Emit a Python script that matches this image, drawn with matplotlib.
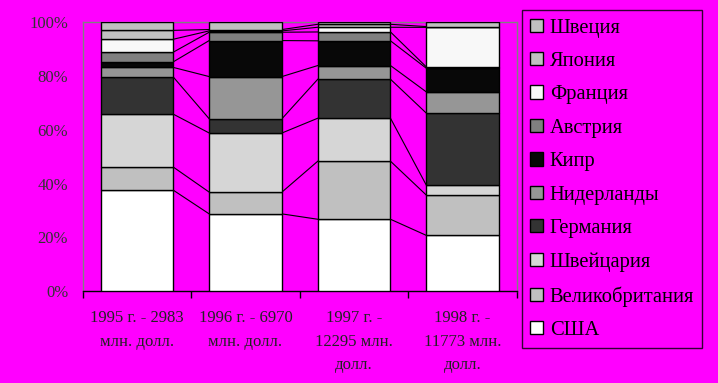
import numpy as np
import matplotlib
matplotlib.use('Agg')
import matplotlib.pyplot as plt
import matplotlib.patches as mpatches

# ── data (share of FDI inflow by country, %) ──
years = ['1995 г. - 2983\nмлн. долл.', '1996 г. - 6970\nмлн. долл.',
         '1997 г. -\n12295 млн.\nдолл.', '1998 г. -\n11773 млн.\nдолл.']

countries = ['США', 'Великобритания', 'Швейцария', 'Германия', 'Нидерланды',
             'Кипр', 'Австрия', 'Франция', 'Япония', 'Швеция']

usa         = [37.5, 28.7, 26.7, 20.7]
uk          = [8.6, 8.1, 21.6, 15.0]
switzerland = [19.7, 22.0, 16.0, 3.7]
germany     = [13.8, 5.3, 14.5, 26.8]
netherlands = [3.6, 15.7, 5.1, 7.9]
cyprus      = [2.1, 13.4, 9.2, 8.8]
austria     = [3.6, 3.1, 3.3, 0.5]
france      = [4.8, 0.5, 1.75, 14.7]
japan       = [3.3, 0.5, 1.1, 0.3]
sweden      = [3.0, 2.7, 0.75, 1.6]

series = [usa, uk, switzerland, germany, netherlands,
          cyprus, austria, france, japan, sweden]

colors = ['#ffffff', '#c0c0c0', '#d6d6d6', '#333333', '#969696',
          '#080808', '#808080', '#f8f8f8', '#c0c0c0', '#c0c0c0']

BG = '#ff00ff'
plt.rcParams['font.family'] = ['Liberation Serif', 'DejaVu Serif']

fig = plt.figure(figsize=(7.18, 3.83), dpi=100, facecolor=BG)
ax = fig.add_axes([0.1152, 0.2402, 0.6048, 0.7016], facecolor=BG)

x = np.arange(len(years))
w = 0.67
vals = np.array(series, dtype=float)
vals = vals / vals.sum(axis=0) * 100
bottoms = np.zeros(len(years))

for i, (name, v) in enumerate(zip(countries, vals)):
    ax.bar(x, v, w, bottom=bottoms, color=colors[i], edgecolor='black',
           linewidth=1.0, zorder=3, label=name)
    tops = bottoms + v
    # series lines between adjacent bars
    for j in range(len(years) - 1):
        ax.plot([x[j] + w / 2, x[j + 1] - w / 2], [tops[j], tops[j + 1]],
                color='black', linewidth=0.8, zorder=2)
    bottoms = tops

ax.set_xlim(-0.5, len(years) - 0.5)
ax.set_ylim(0, 100)
ax.set_yticks(np.arange(0, 101, 20))
ax.set_yticklabels([f'{t}%' for t in range(0, 101, 20)], fontsize=12,
                   color='#333333')
ax.tick_params(axis='y', length=0, pad=10.5)

ax.set_xticks(x)
ax.set_xticklabels(years, fontsize=12, color='#222222', linespacing=1.6)
ax.set_xticks(np.arange(-0.5, len(years)), minor=True)
ax.tick_params(axis='x', which='major', length=0, pad=14)
ax.tick_params(axis='x', which='minor', length=5, width=1, color='black',
               direction='out')

for side in ['top', 'left', 'right']:
    ax.spines[side].set_color('#808080')
    ax.spines[side].set_linewidth(1.0)
ax.spines['bottom'].set_color('black')
ax.spines['bottom'].set_linewidth(1.0)

# legend (reverse order, top = Швеция)
handles = [mpatches.Patch(facecolor=colors[i], edgecolor='black', linewidth=1.0,
                          label=countries[i])
           for i in range(len(countries) - 1, -1, -1)]
leg = fig.legend(handles=handles, loc='upper left',
                 bbox_to_anchor=(0.7266, 0.973), frameon=True, fancybox=False,
                 facecolor=BG, edgecolor='black', fontsize=14.8,
                 handlelength=0.62, handleheight=0.62, handletextpad=0.35,
                 labelspacing=0.7, borderpad=0.4, borderaxespad=0)
leg.get_frame().set_linewidth(1.0)

fig.savefig('out.png', dpi=100, facecolor=BG)
